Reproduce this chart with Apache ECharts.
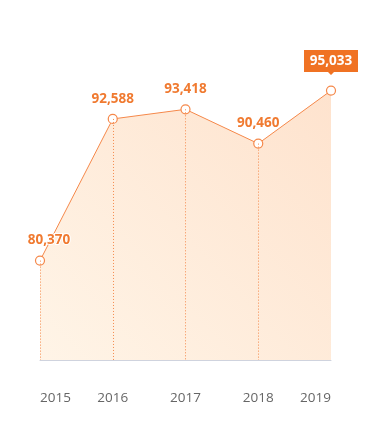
<!DOCTYPE html>
<html><head><meta charset="utf-8">
<script src="https://cdn.jsdelivr.net/npm/echarts@6/dist/echarts.min.js"></script>
<style>html,body{margin:0;padding:0;background:#fff}#c{width:373px;height:442px}</style>
</head><body><div id="c"></div>
<script>
const years = ['2015','2016','2017','2018','2019'];
const values = [80370, 92588, 93418, 90460, 95033];
const yMin = 71800, yMax = 100000;
const fmt = v => v.toLocaleString('en-US');
const chart = echarts.init(document.getElementById('c'));
const lastIdx = values.length - 1;
chart.setOption({
  animation:false,
  grid:{left:40,right:42,top:33,bottom:82},
  xAxis:{type:'category',data:years,boundaryGap:false,
    axisLine:{lineStyle:{color:'#cfd3de',width:1}},axisTick:{show:false},
    axisLabel:{color:'#666',fontSize:13.5,fontFamily:'Open Sans',margin:31,alignMinLabel:'left',alignMaxLabel:'right'}},
  yAxis:{type:'value',min:yMin,max:yMax,show:false,splitLine:{show:false}},
  series:[{
    type:'line',
    data:values.map((v,i)=>({value:v,label:{show:i!==lastIdx,offset:i===0?[9,0]:[0,0]}})),
    symbol:'circle',symbolSize:9,
    itemStyle:{color:'#fff',borderColor:'#f5884a',borderWidth:1.2},
    lineStyle:{color:'#f5884a',width:1},
    areaStyle:{color:new echarts.graphic.LinearGradient(0,1,1,0,[{offset:0,color:'#feefdc'},{offset:1,color:'#fdd6b8'}])},
    label:{position:'top',distance:8,color:'#f07a30',fontSize:13.5,fontWeight:'bold',fontFamily:'Open Sans',
      textBorderColor:'#fff',textBorderWidth:2,formatter:p=>fmt(p.value)},
    markLine:{silent:true,symbol:'none',label:{show:false},
      lineStyle:{color:'#f58a4c',type:[1,2],width:1},
      data:values.slice(0,lastIdx).map((v,i)=>[{coord:[i,v]},{coord:[i,yMin]}])},
    markPoint:{silent:true,
      data:[{coord:[lastIdx,values[lastIdx]],value:values[lastIdx]}],
      symbol:'path://M0,0 H54 V22 H30 L27,25 L24,22 H0 Z',symbolSize:[54,25],symbolOffset:[0,-28],
      itemStyle:{color:'#f07223'},
      label:{color:'#fff',fontSize:13.5,fontWeight:'bold',fontFamily:'Open Sans',offset:[0,-1.5],formatter:p=>fmt(p.value)}}
  }]
});
</script></body></html>
